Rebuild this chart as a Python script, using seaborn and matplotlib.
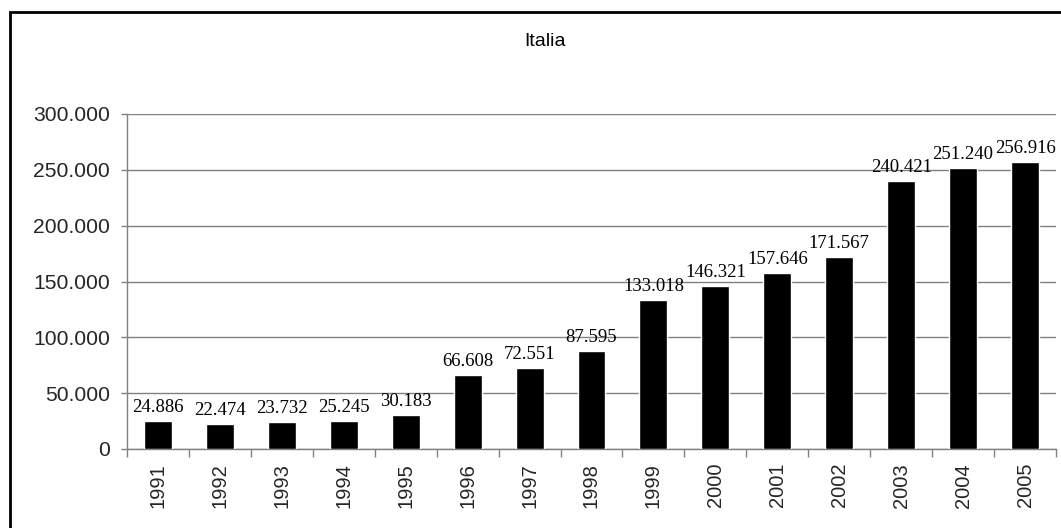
import matplotlib
matplotlib.use("Agg")
import matplotlib.pyplot as plt
import seaborn as sns
import pandas as pd
from matplotlib.patches import Rectangle
from matplotlib.ticker import FuncFormatter, FixedLocator

years = ["1991", "1992", "1993", "1994", "1995", "1996", "1997", "1998",
         "1999", "2000", "2001", "2002", "2003", "2004", "2005"]
values = [24886, 22474, 23732, 25245, 30183, 66608, 72551, 87595,
          133018, 146321, 157646, 171567, 240421, 251240, 256916]
title = "Italia"

sns.set_theme(style="white")
plt.rcParams['font.family'] = ['Liberation Sans', 'DejaVu Sans']


def dots(v, _=None):
    return f"{int(v):,}".replace(",", ".")


df = pd.DataFrame({"anno": years, "valore": values})

fig = plt.figure(figsize=(10.61, 5.28), dpi=100)
ax = fig.add_axes([127 / 1061, 1 - 449 / 528, 929 / 1061, 335 / 528])

sns.barplot(data=df, x="anno", y="valore", color="black", width=0.45,
            saturation=1, ax=ax, zorder=3)

ax.set_xlim(-0.5, len(years) - 0.5)
ax.set_ylim(0, 300000)
ax.set_yticks(range(0, 300001, 50000))
ax.yaxis.set_major_formatter(FuncFormatter(dots))
ax.grid(axis="y", color="#808080", lw=1, zorder=0)
ax.set_axisbelow(True)
ax.set_xlabel("")
ax.set_ylabel("")

for side in ["top", "right"]:
    ax.spines[side].set_visible(False)
for side in ["left", "bottom"]:
    ax.spines[side].set_color("#808080")
    ax.spines[side].set_linewidth(1)

ax.tick_params(axis="y", which="major", direction="out", length=4.3, width=1,
               color="#808080", labelsize=15.2, pad=8, left=True)
ax.tick_params(axis="x", which="major", length=0, labelsize=14.5, pad=10,
               labelrotation=90)
ax.xaxis.set_minor_locator(FixedLocator([i - 0.5 for i in range(len(years) + 1)]))
ax.tick_params(axis="x", which="minor", direction="out", length=6, width=1,
               color="#808080", bottom=True)

for i, v in enumerate(values):
    ax.text(i, v + 4500, dots(v), ha="center", va="bottom", fontsize=13.5,
            family=["Liberation Serif", "DejaVu Serif"], color="black")

fig.text(545 / 1061, 1 - 42 / 528, title, ha="center", va="center",
         fontsize=14, color="black")

fig.patches.append(Rectangle((9.5 / 1061, -0.1), 1.2, 1 - 12.5 / 528 + 0.1,
                             transform=fig.transFigure, fill=False,
                             edgecolor="black", lw=2, zorder=10))

fig.savefig("out.png", dpi=100)
